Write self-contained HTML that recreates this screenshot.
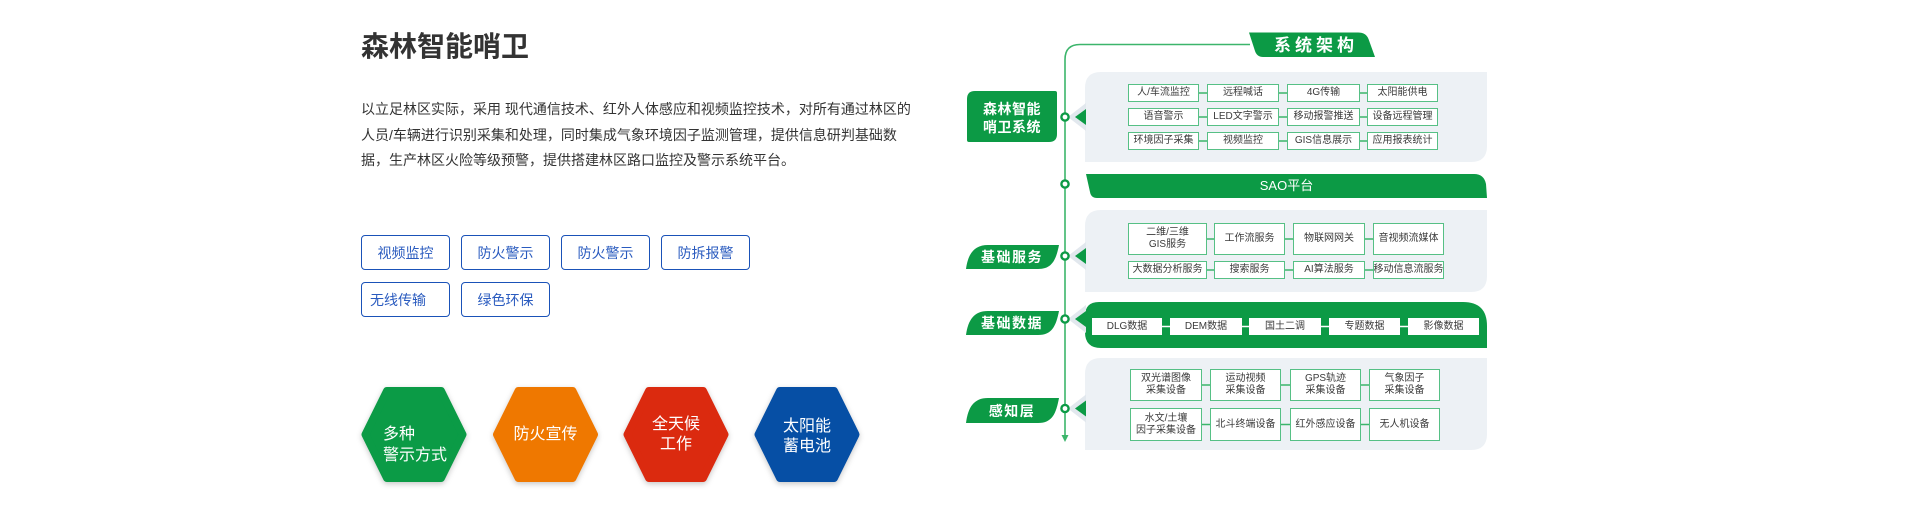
<!DOCTYPE html>
<html><head><meta charset="utf-8">
<style>
*{margin:0;padding:0;box-sizing:border-box}
html,body{width:1920px;height:507px;overflow:hidden;background:#fff}
body{position:relative;font-family:"Liberation Sans","Noto Sans CJK SC",sans-serif}
svg.bg{position:absolute;left:0;top:0}
.a{position:absolute;white-space:nowrap}
.bx{position:absolute;display:flex;align-items:center;justify-content:center;text-align:center;background:#fff;border:1.5px solid #56c085;font-size:10px;color:#3a3a3a;line-height:12px;white-space:nowrap}
.db{border:none}
.tag{position:absolute;width:89px;height:35px;border:1.5px solid #1a52b8;border-radius:4px;color:#2a5bbf;font-size:14px;display:flex;align-items:center;justify-content:center;background:#fff}
.hx{position:absolute;color:#fff;font-size:16px;white-space:nowrap}
.lb{position:absolute;color:#fff;font-weight:bold;font-size:14px;text-align:center;letter-spacing:1.5px;white-space:nowrap}
</style></head>
<body>
<svg class="bg" width="1920" height="507" viewBox="0 0 1920 507">
  <g stroke-linejoin="round" stroke-width="8" style="filter:drop-shadow(0 2px 3px rgba(0,0,0,0.22))">
    <path d="M365.5,434.5 L387,391 L441,391 L462.5,434.5 L441,478 L387,478 Z" fill="#0b9b46" stroke="#0b9b46"/>
    <path d="M365.5,434.5 L387,391 L441,391 L462.5,434.5 L441,478 L387,478 Z" fill="#ef7800" stroke="#ef7800" transform="translate(131.5,0)"/>
    <path d="M365.5,434.5 L387,391 L441,391 L462.5,434.5 L441,478 L387,478 Z" fill="#db2a0f" stroke="#db2a0f" transform="translate(262,0)"/>
    <path d="M365.5,434.5 L387,391 L441,391 L462.5,434.5 L441,478 L387,478 Z" fill="#064fa5" stroke="#064fa5" transform="translate(393,0)"/>
  </g>

  <path d="M1250,44.5 H1080 Q1065,44.5 1065,59.5 V437" fill="none" stroke="#3cb56b" stroke-width="1.6"/>
  <polygon points="1061.5,435 1068.5,435 1065,442" fill="#3cb56b"/>

  <path d="M1249,32.5 L1358,32.5 Q1366,32.5 1368.5,39 L1375,57 L1263,57 Q1257,57 1255,51 Z" fill="#0c9a45"/>

  <path d="M1101,72 H1487 V146 Q1487,162 1471,162 H1085 V88 Q1085,72 1101,72 Z" fill="#edf1f5"/>
  <path d="M1086,174 H1474 Q1484,174 1486,184 L1487,198 H1097 Q1091,198 1090,192 Z" fill="#0c9a45"/>
  <path d="M1101,210 H1487 V276 Q1487,292 1471,292 H1085 V226 Q1085,210 1101,210 Z" fill="#edf1f5"/>
  <path d="M1099,302 H1463 Q1487,302 1487,326 V348 H1101 Q1085,348 1085,332 V316 Q1085,302 1099,302 Z" fill="#0c9a45"/>
  <path d="M1101,358 H1487 V434 Q1487,450 1471,450 H1085 V374 Q1085,358 1101,358 Z" fill="#edf1f5"/>

  <g>
    <polygon points="1068,117 1086,103 1086,131" fill="#e2e8ee"/>
    <polygon points="1075,117 1086,109 1086,125" fill="#0c9a45"/>
    <polygon points="1068,256 1086,242 1086,270" fill="#e2e8ee"/>
    <polygon points="1075,256 1086,248 1086,264" fill="#0c9a45"/>
    <polygon points="1068,319 1086,305 1086,333" fill="#e2e8ee"/>
    <polygon points="1075,319 1086,311 1086,327" fill="#0c9a45"/>
    <polygon points="1068,408.5 1086,394.5 1086,422.5" fill="#e2e8ee"/>
    <polygon points="1075,408.5 1086,400.5 1086,416.5" fill="#0c9a45"/>
  </g>

  <g fill="#fff" stroke="#0c9a45" stroke-width="2.4">
    <circle cx="1065" cy="117" r="3.6"/>
    <circle cx="1065" cy="184" r="3.6"/>
    <circle cx="1065" cy="256" r="3.6"/>
    <circle cx="1065" cy="319" r="3.6"/>
    <circle cx="1065" cy="408.5" r="3.6"/>
  </g>

  <path d="M975,91 H1055 Q1057,91 1057,93 V134 Q1057,142 1049,142 H969 Q967,142 967,140 V99 Q967,91 975,91 Z" fill="#0c9a45"/>
  <path d="M966,269 C968,254 974,245 988,245 L1059,245 C1056,260 1052,269 1038,269 Z" fill="#0c9a45"/>
  <path d="M966,335 C968,320 974,311 988,311 L1059,311 C1056,326 1052,335 1038,335 Z" fill="#0c9a45"/>
  <path d="M966,423 C968,407 974,398 988,398 L1059,398 C1056,414 1052,423 1038,423 Z" fill="#0c9a45"/>

  <g stroke="#3cb56b" stroke-width="1.5">
    <line x1="1140" y1="93" x2="1430" y2="93"/>
    <line x1="1140" y1="117" x2="1430" y2="117"/>
    <line x1="1140" y1="141" x2="1430" y2="141"/>
    <line x1="1140" y1="239" x2="1430" y2="239"/>
    <line x1="1140" y1="270" x2="1430" y2="270"/>
    <line x1="1140" y1="385" x2="1430" y2="385"/>
    <line x1="1140" y1="424.5" x2="1430" y2="424.5"/>
  </g>
  <line x1="1100" y1="326.5" x2="1470" y2="326.5" stroke="#fff" stroke-width="1.5"/>
</svg>

<div class="a" style="left:361px;top:27px;font-size:28px;line-height:40px;font-weight:bold;color:#333">森林智能哨卫</div>
<div class="a" style="left:361px;top:97px;font-size:14px;line-height:25.5px;color:#333">
<div>以立足林区实际，采用 现代通信技术、红外人体感应和视频监控技术，对所有通过林区的</div>
<div>人员/车辆进行识别采集和处理，同时集成气象环境因子监测管理，提供信息研判基础数</div>
<div>据，生产林区火险等级预警，提供搭建林区路口监控及警示系统平台。</div>
</div>

<div class="tag" style="left:361px;top:235px">视频监控</div>
<div class="tag" style="left:461px;top:235px">防火警示</div>
<div class="tag" style="left:561px;top:235px">防火警示</div>
<div class="tag" style="left:661px;top:235px">防拆报警</div>
<div class="tag" style="left:361px;top:282px;justify-content:flex-start;padding-left:8px">无线传输</div>
<div class="tag" style="left:461px;top:282px">绿色环保</div>

<div class="hx" style="left:383px;top:424px;line-height:21px">多种<br>警示方式</div>
<div class="hx" style="left:493px;top:425px;width:105px;text-align:center;line-height:20px">防火宣传</div>
<div class="hx" style="left:623px;top:415px;width:106px;text-align:center;line-height:20px">全天候<br>工作</div>
<div class="hx" style="left:754px;top:417px;width:106px;text-align:center;line-height:19.5px">太阳能<br>蓄电池</div>

<div class="a" style="left:1249px;top:34px;width:126px;text-align:center;color:#fff;font-size:17px;font-weight:bold;line-height:23px;letter-spacing:4px;padding-left:8px">系统架构</div>
<div class="a" style="left:1086px;top:176px;width:401px;text-align:center;color:#fff;font-size:13px;line-height:20px">SAO平台</div>
<div class="lb" style="left:967px;top:100px;width:90px;line-height:18px;letter-spacing:0.5px">森林智能<br>哨卫系统</div>
<div class="lb" style="left:962px;top:247px;width:100px;line-height:20px">基础服务</div>
<div class="lb" style="left:962px;top:313px;width:100px;line-height:20px">基础数据</div>
<div class="lb" style="left:962px;top:400.5px;width:100px;line-height:20px">感知层</div>

<div class="bx" style="left:1128px;top:84px;width:71px;height:18px">人/车流监控</div>
<div class="bx" style="left:1207px;top:84px;width:72px;height:18px">远程喊话</div>
<div class="bx" style="left:1287px;top:84px;width:73px;height:18px">4G传输</div>
<div class="bx" style="left:1367px;top:84px;width:71px;height:18px">太阳能供电</div>
<div class="bx" style="left:1128px;top:108px;width:71px;height:18px">语音警示</div>
<div class="bx" style="left:1207px;top:108px;width:72px;height:18px">LED文字警示</div>
<div class="bx" style="left:1287px;top:108px;width:73px;height:18px">移动报警推送</div>
<div class="bx" style="left:1367px;top:108px;width:71px;height:18px">设备远程管理</div>
<div class="bx" style="left:1128px;top:132px;width:71px;height:18px">环境因子采集</div>
<div class="bx" style="left:1207px;top:132px;width:72px;height:18px">视频监控</div>
<div class="bx" style="left:1287px;top:132px;width:73px;height:18px">GIS信息展示</div>
<div class="bx" style="left:1367px;top:132px;width:71px;height:18px">应用报表统计</div>

<div class="bx" style="left:1128px;top:223px;width:79px;height:32px">二维/三维<br>GIS服务</div>
<div class="bx" style="left:1214px;top:223px;width:71px;height:32px">工作流服务</div>
<div class="bx" style="left:1293px;top:223px;width:72px;height:32px">物联网网关</div>
<div class="bx" style="left:1373px;top:223px;width:71px;height:32px">音视频流媒体</div>
<div class="bx" style="left:1128px;top:261px;width:79px;height:18px">大数据分析服务</div>
<div class="bx" style="left:1214px;top:261px;width:71px;height:18px">搜索服务</div>
<div class="bx" style="left:1293px;top:261px;width:72px;height:18px">AI算法服务</div>
<div class="bx" style="left:1373px;top:261px;width:71px;height:18px">移动信息流服务</div>

<div class="bx db" style="left:1092px;top:318px;width:70px;height:17px">DLG数据</div>
<div class="bx db" style="left:1170px;top:318px;width:72px;height:17px">DEM数据</div>
<div class="bx db" style="left:1249px;top:318px;width:72px;height:17px">国土二调</div>
<div class="bx db" style="left:1329px;top:318px;width:71px;height:17px">专题数据</div>
<div class="bx db" style="left:1408px;top:318px;width:71px;height:17px">影像数据</div>

<div class="bx" style="left:1130px;top:369px;width:72px;height:32px">双光谱图像<br>采集设备</div>
<div class="bx" style="left:1210px;top:369px;width:71px;height:32px">运动视频<br>采集设备</div>
<div class="bx" style="left:1290px;top:369px;width:71px;height:32px">GPS轨迹<br>采集设备</div>
<div class="bx" style="left:1369px;top:369px;width:71px;height:32px">气象因子<br>采集设备</div>
<div class="bx" style="left:1130px;top:408px;width:72px;height:33px">水文/土壤<br>因子采集设备</div>
<div class="bx" style="left:1210px;top:408px;width:71px;height:33px">北斗终端设备</div>
<div class="bx" style="left:1290px;top:408px;width:71px;height:33px">红外感应设备</div>
<div class="bx" style="left:1369px;top:408px;width:71px;height:33px">无人机设备</div>
</body></html>
